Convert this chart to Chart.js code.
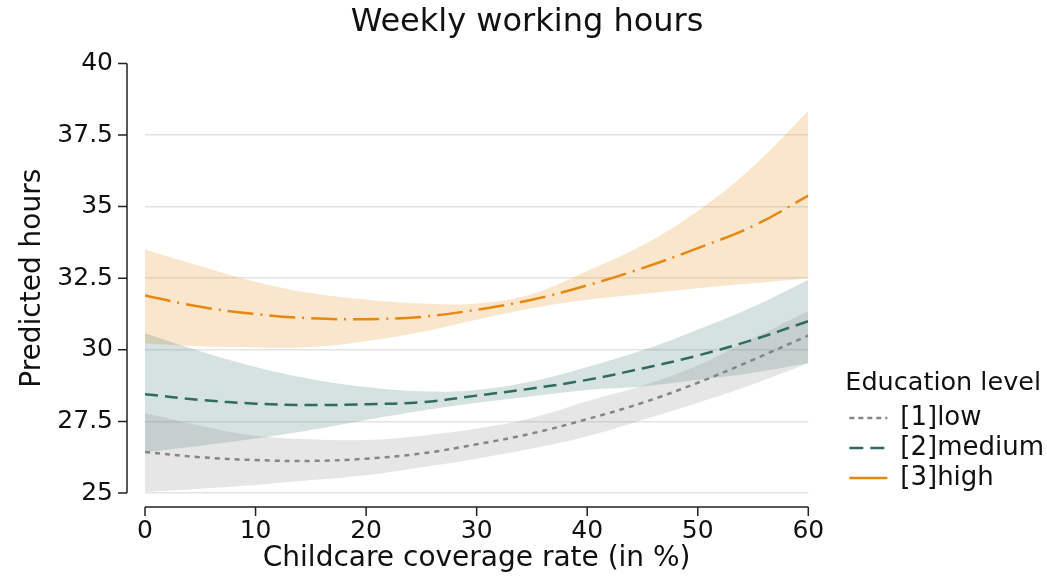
<!DOCTYPE html>
<html>
<head>
<meta charset="utf-8">
<script src="https://cdn.jsdelivr.net/npm/chart.js@4.4.1/dist/chart.umd.min.js"></script>
<style>
  body { margin: 0; background: #fff; }
  #wrap { width: 1047px; height: 576px; }
</style>
</head>
<body>
<div id="wrap"><canvas id="hoursChart" width="1047" height="576"></canvas></div>
<script>
// childcare coverage rate (%)
const coverage = [0, 5, 10, 15, 20, 25, 30, 35, 40, 45, 50, 55, 60];

// [1]low
const lowFit   = [26.43, 26.25, 26.15, 26.12, 26.20, 26.38, 26.70, 27.08, 27.58, 28.15, 28.85, 29.65, 30.50];
const lowUpper = [27.79, 27.35, 27.00, 26.88, 26.85, 27.00, 27.25, 27.62, 28.20, 28.75, 29.45, 30.40, 31.35];
const lowLower = [25.04, 25.15, 25.28, 25.45, 25.62, 25.90, 26.20, 26.55, 26.98, 27.55, 28.15, 28.80, 29.53];

// [2]medium
const medFit   = [28.45, 28.25, 28.12, 28.07, 28.10, 28.17, 28.40, 28.65, 28.95, 29.35, 29.80, 30.35, 31.00];
const medUpper = [30.58, 29.95, 29.40, 28.98, 28.70, 28.55, 28.60, 28.90, 29.40, 29.98, 30.70, 31.50, 32.45];
const medLower = [26.43, 26.65, 26.90, 27.20, 27.55, 27.87, 28.15, 28.38, 28.60, 28.72, 28.95, 29.20, 29.53];

// [3]high
const highFit   = [31.90, 31.50, 31.25, 31.10, 31.07, 31.15, 31.40, 31.75, 32.25, 32.85, 33.55, 34.32, 35.38];
const highUpper = [33.50, 32.92, 32.38, 31.98, 31.75, 31.62, 31.62, 31.95, 32.75, 33.65, 34.85, 36.40, 38.35];
const highLower = [30.23, 30.12, 30.08, 30.10, 30.30, 30.62, 31.05, 31.45, 31.75, 31.95, 32.15, 32.32, 32.50];

const yTicks = [25, 27.5, 30, 32.5, 35, 37.5, 40];
const xTicks = [0, 10, 20, 30, 40, 50, 60];

const pts = arr => arr.map((v, i) => ({ x: coverage[i], y: v }));

function band(lower, upper, fillColor) {
  return [
    { label: '', data: pts(lower), borderWidth: 0, pointRadius: 0, fill: false,
      tension: 0.4, isBand: true },
    { label: '', data: pts(upper), borderWidth: 0, pointRadius: 0, fill: '-1',
      backgroundColor: fillColor, tension: 0.4, isBand: true }
  ];
}
function fitLine(label, values, color, dash) {
  return { label: label, data: pts(values), borderColor: color, backgroundColor: color,
    borderWidth: 2.5, borderDash: dash, pointRadius: 0, fill: false, tension: 0.4 };
}

const datasets = [
  ...band(lowLower, lowUpper, 'rgba(128,128,128,0.2)'),
  ...band(medLower, medUpper, 'rgba(45,110,100,0.2)'),
  ...band(highLower, highUpper, 'rgba(232,140,25,0.22)'),
  fitLine('[1]low', lowFit, '#858585', [5, 5]),
  fitLine('[2]medium', medFit, '#2f6b63', [13, 7]),
  fitLine('[3]high', highFit, '#e8870e', [26, 7, 2, 7])
];
const legendDash = { '[1]low': [5, 4], '[2]medium': [14, 7], '[3]high': [] };

// despined axes drawn a little away from the data area
const offsetAxes = {
  id: 'offsetAxes',
  afterLayout(chart) {
    // push the legend away from the plot, like the original
    const lg = chart.legend;
    lg.left += 37; lg.right += 37;
    lg.top += 2; lg.bottom += 2;
  },
  afterDraw(chart) {
    const { ctx, chartArea, scales: { x, y } } = chart;
    const ax = chartArea.left - 18, ay = chartArea.bottom + 14;
    ctx.save();
    ctx.strokeStyle = '#222';
    ctx.lineWidth = 1.5;
    ctx.beginPath();
    ctx.moveTo(ax, y.getPixelForValue(yTicks[0]));
    ctx.lineTo(ax, y.getPixelForValue(yTicks[yTicks.length - 1]));
    yTicks.forEach(v => { const py = y.getPixelForValue(v); ctx.moveTo(ax - 9, py); ctx.lineTo(ax, py); });
    ctx.moveTo(x.getPixelForValue(xTicks[0]), ay);
    ctx.lineTo(x.getPixelForValue(xTicks[xTicks.length - 1]), ay);
    xTicks.forEach(v => { const px = x.getPixelForValue(v); ctx.moveTo(px, ay); ctx.lineTo(px, ay + 9); });
    ctx.stroke();
    ctx.restore();
  }
};

Chart.defaults.font.family = "'DejaVu Sans', sans-serif";
Chart.defaults.color = '#111';

const ctx = document.getElementById('hoursChart').getContext('2d');
const chart = new Chart(ctx, {
  type: 'line',
  data: { datasets: datasets },
  plugins: [offsetAxes],
  options: {
    responsive: false,
    animation: false,
    layout: { padding: { left: 37, right: 30, top: 0, bottom: 0 } },
    scales: {
      x: {
        type: 'linear', min: 0, max: 60,
        grid: { display: false, drawTicks: false },
        border: { display: false },
        ticks: { stepSize: 10, padding: 23, font: { size: 25 }, color: '#111' },
        title: { display: true, text: 'Childcare coverage rate (in %)', font: { size: 28 },
          padding: { top: 2, bottom: 0 }, color: '#111' },
        afterFit: s => { s.height = 83; }
      },
      y: {
        min: 25, max: 40,
        grid: {
          drawTicks: false, lineWidth: 1.5,
          color: c => (c.tick && c.tick.value === 40 ? 'rgba(0,0,0,0)' : '#e4e4e4')
        },
        border: { display: false },
        ticks: { stepSize: 2.5, padding: 32, font: { size: 25 }, color: '#111' },
        title: { display: true, text: 'Predicted hours', font: { size: 28 },
          padding: { top: -20.8, bottom: 0 }, color: '#111' },
        afterFit: s => { s.width = 108; }
      }
    },
    plugins: {
      filler: { drawTime: 'beforeDatasetsDraw' },
      tooltip: { enabled: false },
      title: {
        display: true, text: 'Weekly working hours',
        font: { size: 32, weight: 'normal' }, color: '#111',
        padding: { top: 3, bottom: 22 }
      },
      legend: {
        position: 'right', align: 'end', fullSize: false,
        title: { display: true, text: 'Education level', font: { size: 25.5 }, color: '#111',
          position: 'start', padding: { top: 0, bottom: 0 } },
        labels: {
          usePointStyle: true, pointStyleWidth: 38, padding: 4,
          font: { size: 26 }, color: '#111',
          generateLabels: ch => ch.data.datasets
            .map((ds, i) => ({ ds, i }))
            .filter(o => !o.ds.isBand)
            .map(o => ({
              text: o.ds.label, datasetIndex: o.i, pointStyle: 'line',
              strokeStyle: o.ds.borderColor, fillStyle: o.ds.borderColor,
              lineWidth: 2.5, lineDash: legendDash[o.ds.label], fontColor: '#111'
            }))
        }
      }
    }
  }
});
</script>
</body>
</html>
